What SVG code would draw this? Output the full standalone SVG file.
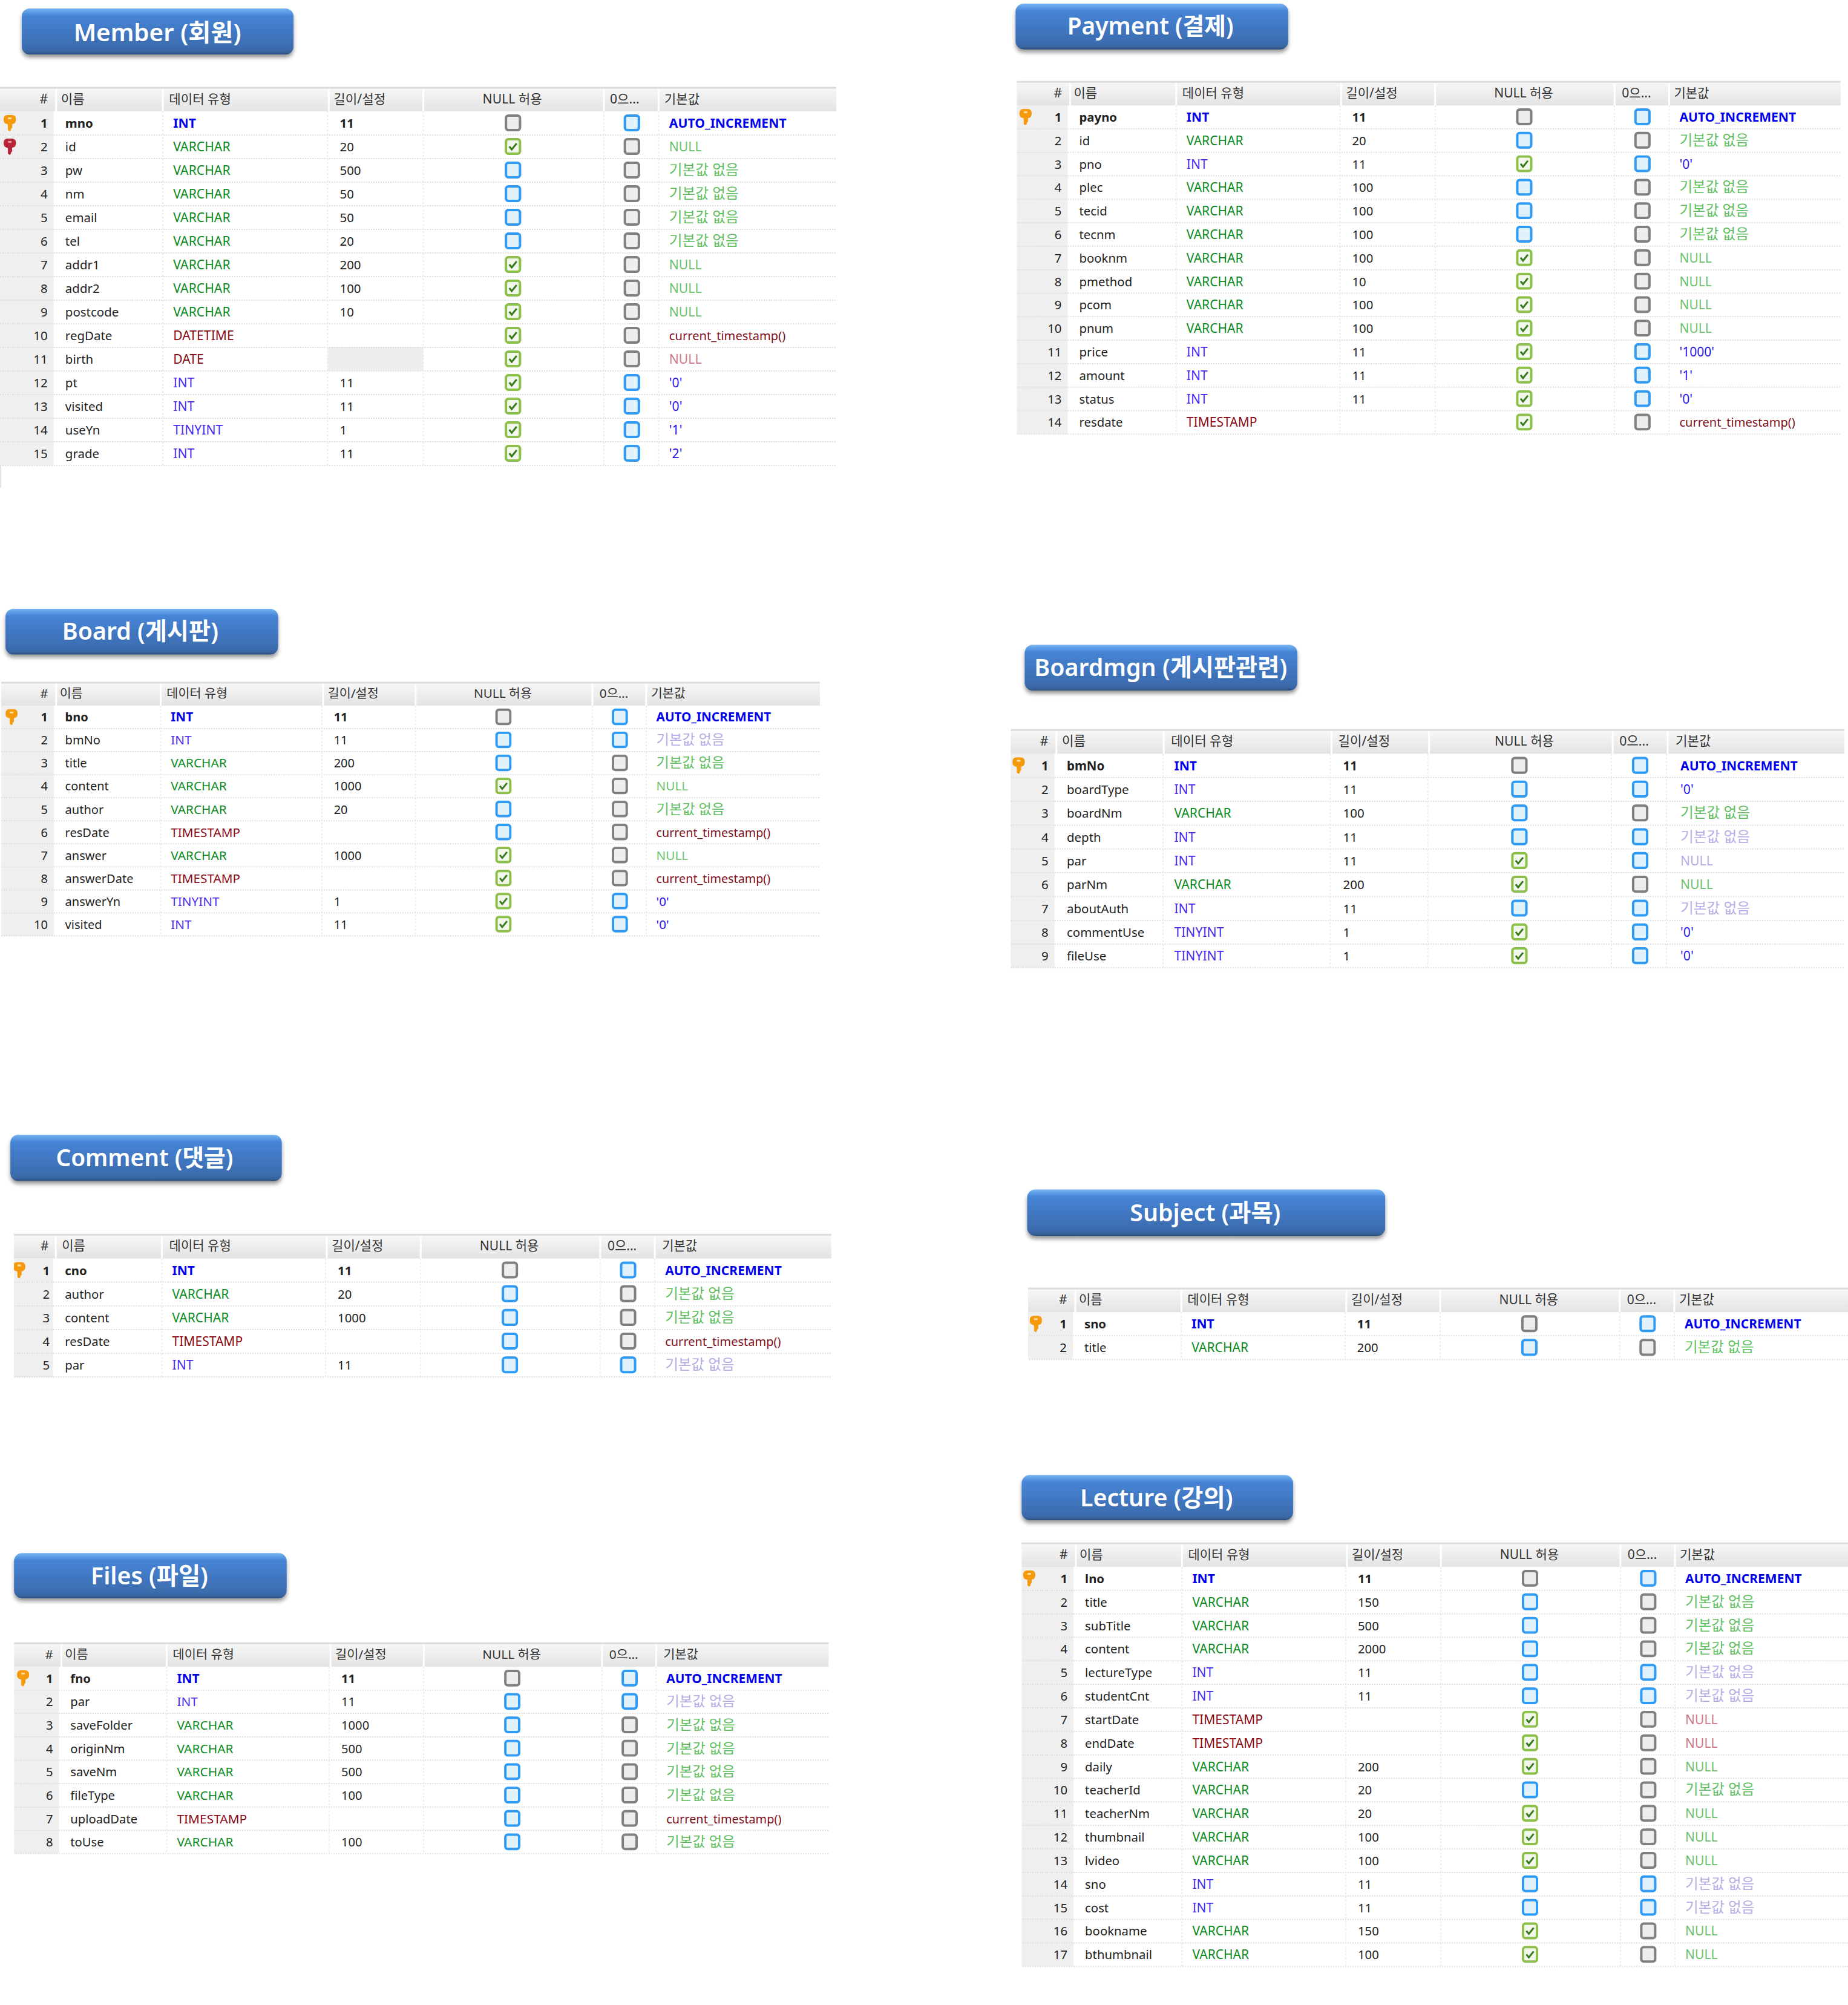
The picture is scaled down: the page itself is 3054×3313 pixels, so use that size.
<svg xmlns="http://www.w3.org/2000/svg" width="3054" height="3313" viewBox="0 0 3054 3313">
<style>
text{font-family:"Noto Sans","Noto Sans CJK KR",sans-serif;font-size:20.3px;fill:#222}
.n{text-anchor:end}
.b text{font-weight:700}
.h{fill:#333;font-size:21px}.m{text-anchor:middle}
.i,.v,.t,.a{font-size:21px}
.i{fill:#4a2cf0}.v{fill:#0b8a1e}.t{fill:#8b0a14}
.a{fill:#0000ee}.dg{fill:#5fbf5f;font-size:23.5px}.dn{fill:#6cc26c;font-size:21px}.dl{fill:#b4aee6;font-size:23.5px}.dr{fill:#cf7a86;font-size:21px}.dq{fill:#2a14ee;font-size:21px}.dc{fill:#80101c;font-size:20px}
.bt{font-size:39px;font-weight:600;fill:#fff;text-anchor:middle}
.btn{fill:url(#bg);filter:url(#sh)}
.num{fill:#efefef}
.hd{fill:url(#hg)}
.hl{fill:none;stroke:#dcdcdc;stroke-width:3}
.sep{fill:none;stroke:#fff;stroke-width:3}
.g{fill:none;stroke:#dedede;stroke-width:2;stroke-dasharray:2 2}
.gv{fill:none;stroke:#ececec;stroke-width:2;stroke-dasharray:3 3}
</style>
<defs>
<linearGradient id="bg" x1="0" y1="0" x2="0" y2="1"><stop offset="0" stop-color="#79b4f2"/><stop offset=".07" stop-color="#5f9fe8"/><stop offset=".16" stop-color="#4684d6"/><stop offset=".86" stop-color="#3c6cae"/><stop offset=".95" stop-color="#38649f"/><stop offset="1" stop-color="#2a4a78"/></linearGradient>
<linearGradient id="hg" x1="0" y1="0" x2="0" y2="1"><stop offset="0" stop-color="#f8f8f8"/><stop offset="1" stop-color="#e3e3e3"/></linearGradient>
<filter id="sh" x="-5%" y="-10%" width="110%" height="130%"><feDropShadow dx="0" dy="5" stdDeviation="3" flood-color="#000" flood-opacity=".4"/></filter>
<clipPath id="c-pay"><rect x="4" y="-5" width="1359" height="700"/></clipPath>
<clipPath id="c-com"><rect x="23" y="-5" width="1349" height="300"/></clipPath>
<clipPath id="c-fil"><rect x="13.4" y="-5" width="1353" height="420"/></clipPath>
<clipPath id="c-sub"><rect x="14.2" y="-5" width="1357" height="200"/></clipPath>
<clipPath id="c-lec"><rect x="2.5" y="-5" width="1369" height="760"/></clipPath>
<g id="cg"><rect x="-11.5" y="-12" width="23" height="24" rx="4" fill="#eee" stroke="#808080" stroke-width="4"/></g>
<g id="cb"><rect x="-11.5" y="-12" width="23" height="24" rx="4" fill="#e2f2fd" stroke="#2f9bf5" stroke-width="4"/></g>
<g id="cc"><rect x="-11.5" y="-12" width="23" height="24" rx="4" fill="#f3f8ec" stroke="#8cc04a" stroke-width="4"/><path d="M-6 0L-2 5L6 -5" fill="none" stroke="#3a7a20" stroke-width="3"/></g>
<g id="ko"><path d="M-4 -1H4V8L2 10V12L0 14L-3 12V5Z" fill="#f59a0c"/><rect x="-10" y="-13" width="20" height="15" rx="6" fill="#f59a0c"/><rect x="-3" y="-9" width="6" height="3" rx="1" fill="#ffe0a0"/></g>
<g id="kr"><path d="M-4 -1H4V8L2 10V12L0 14L-3 12V5Z" fill="#b82438"/><rect x="-10" y="-13" width="20" height="15" rx="6" fill="#b82438"/><rect x="-3" y="-9" width="6" height="3" rx="1" fill="#f0a0a8"/></g>
</defs>
<g id="page" transform="scale(1.008)">

<g id="member">
<rect class="btn" x="35.7" y="13.9" width="445.5" height="75.4" rx="13"/>
<text class="bt" x="258" y="67.5" style="font-size:40px">Member (회원)</text>
<g id="member-table" transform="translate(0,142.9) scale(1,.992)">
<path d="M1 0V662" fill="none" stroke="#e2e2e2" stroke-width="2"/>
<rect class="num" y="40" width="88" height="585"/>
<rect x="537" y="430" width="157" height="39" fill="#eee"/>
<rect class="hd" width="1371" height="40"/><path class="hl" d="M0 1H1371"/><path class="sep" d="M92 3V40M267 3V40M539 3V40M694 3V40M990 3V40M1080 3V40"/>
<path class="g" d="M0 79H1371M0 118H1371M0 157H1371M0 196H1371M0 235H1371M0 274H1371M0 313H1371M0 352H1371M0 391H1371M0 430H1371M0 469H1371M0 508H1371M0 547H1371M0 586H1371M0 625H1371"/>
<path class="gv" d="M267 40V625M537 40V625M694 40V625M990 40V625M1080 40V625"/>
<text class="h" x="65" y="27">#</text><text class="h" x="100" y="27">이름</text><text class="h" x="277" y="27">데이터 유형</text><text class="h" x="547" y="27">길이/설정</text><text class="h m" x="840" y="27">NULL 허용</text><text class="h" x="1000" y="27">0으...</text><text class="h" x="1089" y="27">기본값</text>
<use href="#ko" x="16" y="59"/><use href="#kr" x="16" y="98"/>
<g class="b"><text class="n" x="78" y="67">1</text><text x="107" y="67">mno</text><text class="a" x="284" y="67">INT</text><text x="557" y="67">11</text><use href="#cg" x="841" y="59"/><use href="#cb" x="1036" y="59"/><text class="a" x="1097" y="67">AUTO_INCREMENT</text></g>
<g transform="translate(0,39)"><text class="n" x="78" y="67">2</text><text x="107" y="67">id</text><text class="v" x="284" y="67">VARCHAR</text><text x="557" y="67">20</text><use href="#cc" x="841" y="59"/><use href="#cg" x="1036" y="59"/><text class="dn" x="1097" y="67">NULL</text></g>
<g transform="translate(0,78)"><text class="n" x="78" y="67">3</text><text x="107" y="67">pw</text><text class="v" x="284" y="67">VARCHAR</text><text x="557" y="67">500</text><use href="#cb" x="841" y="59"/><use href="#cg" x="1036" y="59"/><text class="dg" x="1097" y="67">기본값 없음</text></g>
<g transform="translate(0,117)"><text class="n" x="78" y="67">4</text><text x="107" y="67">nm</text><text class="v" x="284" y="67">VARCHAR</text><text x="557" y="67">50</text><use href="#cb" x="841" y="59"/><use href="#cg" x="1036" y="59"/><text class="dg" x="1097" y="67">기본값 없음</text></g>
<g transform="translate(0,156)"><text class="n" x="78" y="67">5</text><text x="107" y="67">email</text><text class="v" x="284" y="67">VARCHAR</text><text x="557" y="67">50</text><use href="#cb" x="841" y="59"/><use href="#cg" x="1036" y="59"/><text class="dg" x="1097" y="67">기본값 없음</text></g>
<g transform="translate(0,195)"><text class="n" x="78" y="67">6</text><text x="107" y="67">tel</text><text class="v" x="284" y="67">VARCHAR</text><text x="557" y="67">20</text><use href="#cb" x="841" y="59"/><use href="#cg" x="1036" y="59"/><text class="dg" x="1097" y="67">기본값 없음</text></g>
<g transform="translate(0,234)"><text class="n" x="78" y="67">7</text><text x="107" y="67">addr1</text><text class="v" x="284" y="67">VARCHAR</text><text x="557" y="67">200</text><use href="#cc" x="841" y="59"/><use href="#cg" x="1036" y="59"/><text class="dn" x="1097" y="67">NULL</text></g>
<g transform="translate(0,273)"><text class="n" x="78" y="67">8</text><text x="107" y="67">addr2</text><text class="v" x="284" y="67">VARCHAR</text><text x="557" y="67">100</text><use href="#cc" x="841" y="59"/><use href="#cg" x="1036" y="59"/><text class="dn" x="1097" y="67">NULL</text></g>
<g transform="translate(0,312)"><text class="n" x="78" y="67">9</text><text x="107" y="67">postcode</text><text class="v" x="284" y="67">VARCHAR</text><text x="557" y="67">10</text><use href="#cc" x="841" y="59"/><use href="#cg" x="1036" y="59"/><text class="dn" x="1097" y="67">NULL</text></g>
<g transform="translate(0,351)"><text class="n" x="78" y="67">10</text><text x="107" y="67">regDate</text><text class="t" x="284" y="67">DATETIME</text><use href="#cc" x="841" y="59"/><use href="#cg" x="1036" y="59"/><text class="dc" x="1097" y="67">current_timestamp()</text></g>
<g transform="translate(0,390)"><text class="n" x="78" y="67">11</text><text x="107" y="67">birth</text><text class="t" x="284" y="67">DATE</text><use href="#cc" x="841" y="59"/><use href="#cg" x="1036" y="59"/><text class="dr" x="1097" y="67">NULL</text></g>
<g transform="translate(0,429)"><text class="n" x="78" y="67">12</text><text x="107" y="67">pt</text><text class="i" x="284" y="67">INT</text><text x="557" y="67">11</text><use href="#cc" x="841" y="59"/><use href="#cb" x="1036" y="59"/><text class="dq" x="1097" y="67">'0'</text></g>
<g transform="translate(0,468)"><text class="n" x="78" y="67">13</text><text x="107" y="67">visited</text><text class="i" x="284" y="67">INT</text><text x="557" y="67">11</text><use href="#cc" x="841" y="59"/><use href="#cb" x="1036" y="59"/><text class="dq" x="1097" y="67">'0'</text></g>
<g transform="translate(0,507)"><text class="n" x="78" y="67">14</text><text x="107" y="67">useYn</text><text class="i" x="284" y="67">TINYINT</text><text x="557" y="67">1</text><use href="#cc" x="841" y="59"/><use href="#cb" x="1036" y="59"/><text class="dq" x="1097" y="67">'1'</text></g>
<g transform="translate(0,546)"><text class="n" x="78" y="67">15</text><text x="107" y="67">grade</text><text class="i" x="284" y="67">INT</text><text x="557" y="67">11</text><use href="#cc" x="841" y="59"/><use href="#cb" x="1036" y="59"/><text class="dq" x="1097" y="67">'2'</text></g>
</g>
</g>

<g id="payment">
<rect class="btn" x="1665" y="6" width="447" height="75" rx="13"/>
<text class="bt" x="1886" y="57" style="font-size:38.5px">Payment (결제)</text>
<g id="payment-table" clip-path="url(#c-pay)" transform="translate(1663,133.2) scale(.994,.987)">
<rect class="num" y="40" width="88" height="546"/>
<rect class="hd" width="1371" height="40"/><path class="hl" d="M0 1H1371"/><path class="sep" d="M92 3V40M267 3V40M539 3V40M694 3V40M990 3V40M1080 3V40"/>
<path class="g" d="M0 79H1371M0 118H1371M0 157H1371M0 196H1371M0 235H1371M0 274H1371M0 313H1371M0 352H1371M0 391H1371M0 430H1371M0 469H1371M0 508H1371M0 547H1371M0 586H1371"/>
<path class="gv" d="M267 40V586M537 40V586M694 40V586M990 40V586M1080 40V586"/>
<text class="h" x="65" y="27">#</text><text class="h" x="98" y="27">이름</text><text class="h" x="277" y="27">데이터 유형</text><text class="h" x="547" y="27">길이/설정</text><text class="h m" x="840" y="27">NULL 허용</text><text class="h" x="1002" y="27">0으...</text><text class="h" x="1088" y="27">기본값</text>
<use href="#ko" x="18.5" y="59"/>
<g class="b"><text class="n" x="78" y="67">1</text><text x="107" y="67">payno</text><text class="a" x="284" y="67">INT</text><text x="557" y="67">11</text><use href="#cg" x="841" y="59"/><use href="#cb" x="1036" y="59"/><text class="a" x="1097" y="67">AUTO_INCREMENT</text></g>
<g transform="translate(0,39)"><text class="n" x="78" y="67">2</text><text x="107" y="67">id</text><text class="v" x="284" y="67">VARCHAR</text><text x="557" y="67">20</text><use href="#cb" x="841" y="59"/><use href="#cg" x="1036" y="59"/><text class="dg" x="1097" y="67">기본값 없음</text></g>
<g transform="translate(0,78)"><text class="n" x="78" y="67">3</text><text x="107" y="67">pno</text><text class="i" x="284" y="67">INT</text><text x="557" y="67">11</text><use href="#cc" x="841" y="59"/><use href="#cb" x="1036" y="59"/><text class="dq" x="1097" y="67">'0'</text></g>
<g transform="translate(0,117)"><text class="n" x="78" y="67">4</text><text x="107" y="67">plec</text><text class="v" x="284" y="67">VARCHAR</text><text x="557" y="67">100</text><use href="#cb" x="841" y="59"/><use href="#cg" x="1036" y="59"/><text class="dg" x="1097" y="67">기본값 없음</text></g>
<g transform="translate(0,156)"><text class="n" x="78" y="67">5</text><text x="107" y="67">tecid</text><text class="v" x="284" y="67">VARCHAR</text><text x="557" y="67">100</text><use href="#cb" x="841" y="59"/><use href="#cg" x="1036" y="59"/><text class="dg" x="1097" y="67">기본값 없음</text></g>
<g transform="translate(0,195)"><text class="n" x="78" y="67">6</text><text x="107" y="67">tecnm</text><text class="v" x="284" y="67">VARCHAR</text><text x="557" y="67">100</text><use href="#cb" x="841" y="59"/><use href="#cg" x="1036" y="59"/><text class="dg" x="1097" y="67">기본값 없음</text></g>
<g transform="translate(0,234)"><text class="n" x="78" y="67">7</text><text x="107" y="67">booknm</text><text class="v" x="284" y="67">VARCHAR</text><text x="557" y="67">100</text><use href="#cc" x="841" y="59"/><use href="#cg" x="1036" y="59"/><text class="dn" x="1097" y="67">NULL</text></g>
<g transform="translate(0,273)"><text class="n" x="78" y="67">8</text><text x="107" y="67">pmethod</text><text class="v" x="284" y="67">VARCHAR</text><text x="557" y="67">10</text><use href="#cc" x="841" y="59"/><use href="#cg" x="1036" y="59"/><text class="dn" x="1097" y="67">NULL</text></g>
<g transform="translate(0,312)"><text class="n" x="78" y="67">9</text><text x="107" y="67">pcom</text><text class="v" x="284" y="67">VARCHAR</text><text x="557" y="67">100</text><use href="#cc" x="841" y="59"/><use href="#cg" x="1036" y="59"/><text class="dn" x="1097" y="67">NULL</text></g>
<g transform="translate(0,351)"><text class="n" x="78" y="67">10</text><text x="107" y="67">pnum</text><text class="v" x="284" y="67">VARCHAR</text><text x="557" y="67">100</text><use href="#cc" x="841" y="59"/><use href="#cg" x="1036" y="59"/><text class="dn" x="1097" y="67">NULL</text></g>
<g transform="translate(0,390)"><text class="n" x="78" y="67">11</text><text x="107" y="67">price</text><text class="i" x="284" y="67">INT</text><text x="557" y="67">11</text><use href="#cc" x="841" y="59"/><use href="#cb" x="1036" y="59"/><text class="dq" x="1097" y="67">'1000'</text></g>
<g transform="translate(0,429)"><text class="n" x="78" y="67">12</text><text x="107" y="67">amount</text><text class="i" x="284" y="67">INT</text><text x="557" y="67">11</text><use href="#cc" x="841" y="59"/><use href="#cb" x="1036" y="59"/><text class="dq" x="1097" y="67">'1'</text></g>
<g transform="translate(0,468)"><text class="n" x="78" y="67">13</text><text x="107" y="67">status</text><text class="i" x="284" y="67">INT</text><text x="557" y="67">11</text><use href="#cc" x="841" y="59"/><use href="#cb" x="1036" y="59"/><text class="dq" x="1097" y="67">'0'</text></g>
<g transform="translate(0,507)"><text class="n" x="78" y="67">14</text><text x="107" y="67">resdate</text><text class="t" x="284" y="67">TIMESTAMP</text><use href="#cc" x="841" y="59"/><use href="#cg" x="1036" y="59"/><text class="dc" x="1097" y="67">current_timestamp()</text></g>
</g>
</g>

<g id="board">
<rect class="btn" x="9" y="998" width="447" height="75" rx="13"/>
<text class="bt" x="230" y="1049">Board (게시판)</text>
<g id="board-table" transform="translate(2,1118) scale(.979,.968)">
<rect class="num" y="40" width="88" height="390"/>
<rect class="hd" width="1371" height="40"/><path class="hl" d="M0 1H1371"/><path class="sep" d="M92 3V40M267 3V40M539 3V40M694 3V40M990 3V40M1080 3V40"/>
<path class="g" d="M0 79H1371M0 118H1371M0 157H1371M0 196H1371M0 235H1371M0 274H1371M0 313H1371M0 352H1371M0 391H1371M0 430H1371"/>
<path class="gv" d="M267 40V430M537 40V430M694 40V430M990 40V430M1080 40V430"/>
<text class="h" x="65" y="27">#</text><text class="h" x="98" y="27">이름</text><text class="h" x="277" y="27">데이터 유형</text><text class="h" x="547" y="27">길이/설정</text><text class="h m" x="840" y="27">NULL 허용</text><text class="h" x="1002" y="27">0으...</text><text class="h" x="1088" y="27">기본값</text>
<use href="#ko" x="17.3" y="59"/>
<g class="b"><text class="n" x="78" y="67">1</text><text x="107" y="67">bno</text><text class="a" x="284" y="67">INT</text><text x="557" y="67">11</text><use href="#cg" x="841" y="59"/><use href="#cb" x="1036" y="59"/><text class="a" x="1097" y="67">AUTO_INCREMENT</text></g>
<g transform="translate(0,39)"><text class="n" x="78" y="67">2</text><text x="107" y="67">bmNo</text><text class="i" x="284" y="67">INT</text><text x="557" y="67">11</text><use href="#cb" x="841" y="59"/><use href="#cb" x="1036" y="59"/><text class="dl" x="1097" y="67">기본값 없음</text></g>
<g transform="translate(0,78)"><text class="n" x="78" y="67">3</text><text x="107" y="67">title</text><text class="v" x="284" y="67">VARCHAR</text><text x="557" y="67">200</text><use href="#cb" x="841" y="59"/><use href="#cg" x="1036" y="59"/><text class="dg" x="1097" y="67">기본값 없음</text></g>
<g transform="translate(0,117)"><text class="n" x="78" y="67">4</text><text x="107" y="67">content</text><text class="v" x="284" y="67">VARCHAR</text><text x="557" y="67">1000</text><use href="#cc" x="841" y="59"/><use href="#cg" x="1036" y="59"/><text class="dn" x="1097" y="67">NULL</text></g>
<g transform="translate(0,156)"><text class="n" x="78" y="67">5</text><text x="107" y="67">author</text><text class="v" x="284" y="67">VARCHAR</text><text x="557" y="67">20</text><use href="#cb" x="841" y="59"/><use href="#cg" x="1036" y="59"/><text class="dg" x="1097" y="67">기본값 없음</text></g>
<g transform="translate(0,195)"><text class="n" x="78" y="67">6</text><text x="107" y="67">resDate</text><text class="t" x="284" y="67">TIMESTAMP</text><use href="#cb" x="841" y="59"/><use href="#cg" x="1036" y="59"/><text class="dc" x="1097" y="67">current_timestamp()</text></g>
<g transform="translate(0,234)"><text class="n" x="78" y="67">7</text><text x="107" y="67">answer</text><text class="v" x="284" y="67">VARCHAR</text><text x="557" y="67">1000</text><use href="#cc" x="841" y="59"/><use href="#cg" x="1036" y="59"/><text class="dn" x="1097" y="67">NULL</text></g>
<g transform="translate(0,273)"><text class="n" x="78" y="67">8</text><text x="107" y="67">answerDate</text><text class="t" x="284" y="67">TIMESTAMP</text><use href="#cc" x="841" y="59"/><use href="#cg" x="1036" y="59"/><text class="dc" x="1097" y="67">current_timestamp()</text></g>
<g transform="translate(0,312)"><text class="n" x="78" y="67">9</text><text x="107" y="67">answerYn</text><text class="i" x="284" y="67">TINYINT</text><text x="557" y="67">1</text><use href="#cc" x="841" y="59"/><use href="#cb" x="1036" y="59"/><text class="dq" x="1097" y="67">'0'</text></g>
<g transform="translate(0,351)"><text class="n" x="78" y="67">10</text><text x="107" y="67">visited</text><text class="i" x="284" y="67">INT</text><text x="557" y="67">11</text><use href="#cc" x="841" y="59"/><use href="#cb" x="1036" y="59"/><text class="dq" x="1097" y="67">'0'</text></g>
</g>
</g>

<g id="boardmgn">
<rect class="btn" x="1680" y="1057" width="447" height="75" rx="13"/>
<text class="bt" x="1903" y="1108">Boardmgn (게시판관련)</text>
<g id="boardmgn-table" transform="translate(1657,1195.6)">
<rect class="num" y="40" width="72" height="351"/>
<rect class="hd" width="1367" height="40"/><path class="hl" d="M0 1H1367"/><path class="sep" d="M75 3V40M251 3V40M526 3V40M686 3V40M987 3V40M1077 3V40"/>
<path class="g" d="M0 79H1367M0 118H1367M0 157H1367M0 196H1367M0 235H1367M0 274H1367M0 313H1367M0 352H1367M0 391H1367"/>
<path class="gv" d="M250 40V391M524 40V391M684 40V391M985 40V391M1075 40V391"/>
<text class="h" x="48" y="27">#</text><text class="h" x="84" y="27">이름</text><text class="h" x="263" y="27">데이터 유형</text><text class="h" x="537" y="27">길이/설정</text><text class="h m" x="842" y="27">NULL 허용</text><text class="h" x="998" y="27">0으...</text><text class="h" x="1090" y="27">기본값</text>
<use href="#ko" x="13" y="59"/>
<g class="b"><text class="n" x="62" y="67">1</text><text x="92" y="67">bmNo</text><text class="a" x="268" y="67">INT</text><text x="545" y="67">11</text><use href="#cg" x="834" y="59"/><use href="#cb" x="1032" y="59"/><text class="a" x="1098" y="67">AUTO_INCREMENT</text></g>
<g transform="translate(0,39)"><text class="n" x="62" y="67">2</text><text x="92" y="67">boardType</text><text class="i" x="268" y="67">INT</text><text x="545" y="67">11</text><use href="#cb" x="834" y="59"/><use href="#cb" x="1032" y="59"/><text class="dq" x="1098" y="67">'0'</text></g>
<g transform="translate(0,78)"><text class="n" x="62" y="67">3</text><text x="92" y="67">boardNm</text><text class="v" x="268" y="67">VARCHAR</text><text x="545" y="67">100</text><use href="#cb" x="834" y="59"/><use href="#cg" x="1032" y="59"/><text class="dg" x="1098" y="67">기본값 없음</text></g>
<g transform="translate(0,117)"><text class="n" x="62" y="67">4</text><text x="92" y="67">depth</text><text class="i" x="268" y="67">INT</text><text x="545" y="67">11</text><use href="#cb" x="834" y="59"/><use href="#cb" x="1032" y="59"/><text class="dl" x="1098" y="67">기본값 없음</text></g>
<g transform="translate(0,156)"><text class="n" x="62" y="67">5</text><text x="92" y="67">par</text><text class="i" x="268" y="67">INT</text><text x="545" y="67">11</text><use href="#cc" x="834" y="59"/><use href="#cb" x="1032" y="59"/><text class="dl" x="1098" y="67" style="font-size:21px">NULL</text></g>
<g transform="translate(0,195)"><text class="n" x="62" y="67">6</text><text x="92" y="67">parNm</text><text class="v" x="268" y="67">VARCHAR</text><text x="545" y="67">200</text><use href="#cc" x="834" y="59"/><use href="#cg" x="1032" y="59"/><text class="dn" x="1098" y="67">NULL</text></g>
<g transform="translate(0,234)"><text class="n" x="62" y="67">7</text><text x="92" y="67">aboutAuth</text><text class="i" x="268" y="67">INT</text><text x="545" y="67">11</text><use href="#cb" x="834" y="59"/><use href="#cb" x="1032" y="59"/><text class="dl" x="1098" y="67">기본값 없음</text></g>
<g transform="translate(0,273)"><text class="n" x="62" y="67">8</text><text x="92" y="67">commentUse</text><text class="i" x="268" y="67">TINYINT</text><text x="545" y="67">1</text><use href="#cc" x="834" y="59"/><use href="#cb" x="1032" y="59"/><text class="dq" x="1098" y="67">'0'</text></g>
<g transform="translate(0,312)"><text class="n" x="62" y="67">9</text><text x="92" y="67">fileUse</text><text class="i" x="268" y="67">TINYINT</text><text x="545" y="67">1</text><use href="#cc" x="834" y="59"/><use href="#cb" x="1032" y="59"/><text class="dq" x="1098" y="67">'0'</text></g>
</g>
</g>

<g id="comment">
<rect class="btn" x="17" y="1860" width="445" height="76" rx="13"/>
<text class="bt" x="237" y="1912" style="font-size:38.5px">Comment (댓글)</text>
<g id="comment-table" clip-path="url(#c-com)" transform="translate(0,2023) scale(.994,.997)">
<rect class="num" y="40" width="88" height="195"/>
<rect class="hd" width="1371" height="40"/><path class="hl" d="M0 1H1371"/><path class="sep" d="M92 3V40M267 3V40M539 3V40M694 3V40M990 3V40M1080 3V40"/>
<path class="g" d="M0 79H1371M0 118H1371M0 157H1371M0 196H1371M0 235H1371"/>
<path class="gv" d="M267 40V235M537 40V235M694 40V235M990 40V235M1080 40V235"/>
<text class="h" x="67" y="27">#</text><text class="h" x="102" y="27">이름</text><text class="h" x="279" y="27">데이터 유형</text><text class="h" x="547" y="27">길이/설정</text><text class="h m" x="840" y="27">NULL 허용</text><text class="h" x="1002" y="27">0으...</text><text class="h" x="1092" y="27">기본값</text>
<use href="#ko" x="31.7" y="59"/>
<g class="b"><text class="n" x="82" y="67">1</text><text x="107" y="67">cno</text><text class="a" x="284" y="67">INT</text><text x="557" y="67">11</text><use href="#cg" x="841" y="59"/><use href="#cb" x="1036" y="59"/><text class="a" x="1097" y="67">AUTO_INCREMENT</text></g>
<g transform="translate(0,39)"><text class="n" x="82" y="67">2</text><text x="107" y="67">author</text><text class="v" x="284" y="67">VARCHAR</text><text x="557" y="67">20</text><use href="#cb" x="841" y="59"/><use href="#cg" x="1036" y="59"/><text class="dg" x="1097" y="67">기본값 없음</text></g>
<g transform="translate(0,78)"><text class="n" x="82" y="67">3</text><text x="107" y="67">content</text><text class="v" x="284" y="67">VARCHAR</text><text x="557" y="67">1000</text><use href="#cb" x="841" y="59"/><use href="#cg" x="1036" y="59"/><text class="dg" x="1097" y="67">기본값 없음</text></g>
<g transform="translate(0,117)"><text class="n" x="82" y="67">4</text><text x="107" y="67">resDate</text><text class="t" x="284" y="67">TIMESTAMP</text><use href="#cb" x="841" y="59"/><use href="#cg" x="1036" y="59"/><text class="dc" x="1097" y="67">current_timestamp()</text></g>
<g transform="translate(0,156)"><text class="n" x="82" y="67">5</text><text x="107" y="67">par</text><text class="i" x="284" y="67">INT</text><text x="557" y="67">11</text><use href="#cb" x="841" y="59"/><use href="#cb" x="1036" y="59"/><text class="dl" x="1097" y="67">기본값 없음</text></g>
</g>
</g>

<g id="subject">
<rect class="btn" x="1684" y="1950" width="587" height="76" rx="13"/>
<text class="bt" x="1976" y="2002">Subject (과목)</text>
<g id="subject-table" clip-path="url(#c-sub)" transform="translate(1671.4,2111.2) scale(.994,.995)">
<rect class="num" y="40" width="88" height="78"/>
<rect class="hd" width="1371" height="40"/><path class="hl" d="M0 1H1371"/><path class="sep" d="M92 3V40M267 3V40M539 3V40M694 3V40M990 3V40M1080 3V40"/>
<path class="g" d="M0 79H1371M0 118H1371"/>
<path class="gv" d="M267 40V118M537 40V118M694 40V118M990 40V118M1080 40V118"/>
<text class="h" x="65" y="27">#</text><text class="h" x="98" y="27">이름</text><text class="h" x="277" y="27">데이터 유형</text><text class="h" x="547" y="27">길이/설정</text><text class="h m" x="840" y="27">NULL 허용</text><text class="h" x="1002" y="27">0으...</text><text class="h" x="1088" y="27">기본값</text>
<use href="#ko" x="27" y="59"/>
<g class="b"><text class="n" x="78" y="67">1</text><text x="107" y="67">sno</text><text class="a" x="284" y="67">INT</text><text x="557" y="67">11</text><use href="#cg" x="841" y="59"/><use href="#cb" x="1036" y="59"/><text class="a" x="1097" y="67">AUTO_INCREMENT</text></g>
<g transform="translate(0,39)"><text class="n" x="78" y="67">2</text><text x="107" y="67">title</text><text class="v" x="284" y="67">VARCHAR</text><text x="557" y="67">200</text><use href="#cb" x="841" y="59"/><use href="#cg" x="1036" y="59"/><text class="dg" x="1097" y="67">기본값 없음</text></g>
</g>
</g>

<g id="files">
<rect class="btn" x="23" y="2546" width="447" height="74" rx="13"/>
<text class="bt" x="245" y="2597">Files (파일)</text>
<g id="files-table" clip-path="url(#c-fil)" transform="translate(9.8,2692.8) scale(.987,.983)">
<rect class="num" y="40" width="88" height="312"/>
<rect class="hd" width="1371" height="40"/><path class="hl" d="M0 1H1371"/><path class="sep" d="M92 3V40M267 3V40M539 3V40M694 3V40M990 3V40M1080 3V40"/>
<path class="g" d="M0 79H1371M0 118H1371M0 157H1371M0 196H1371M0 235H1371M0 274H1371M0 313H1371M0 352H1371"/>
<path class="gv" d="M267 40V352M537 40V352M694 40V352M990 40V352M1080 40V352"/>
<text class="h" x="65" y="27">#</text><text class="h" x="98" y="27">이름</text><text class="h" x="277" y="27">데이터 유형</text><text class="h" x="547" y="27">길이/설정</text><text class="h m" x="840" y="27">NULL 허용</text><text class="h" x="1002" y="27">0으...</text><text class="h" x="1092" y="27">기본값</text>
<use href="#ko" x="28.4" y="59"/>
<g class="b"><text class="n" x="78" y="67">1</text><text x="107" y="67">fno</text><text class="a" x="284" y="67">INT</text><text x="557" y="67">11</text><use href="#cg" x="841" y="59"/><use href="#cb" x="1036" y="59"/><text class="a" x="1097" y="67">AUTO_INCREMENT</text></g>
<g transform="translate(0,39)"><text class="n" x="78" y="67">2</text><text x="107" y="67">par</text><text class="i" x="284" y="67">INT</text><text x="557" y="67">11</text><use href="#cb" x="841" y="59"/><use href="#cb" x="1036" y="59"/><text class="dl" x="1097" y="67">기본값 없음</text></g>
<g transform="translate(0,78)"><text class="n" x="78" y="67">3</text><text x="107" y="67">saveFolder</text><text class="v" x="284" y="67">VARCHAR</text><text x="557" y="67">1000</text><use href="#cb" x="841" y="59"/><use href="#cg" x="1036" y="59"/><text class="dg" x="1097" y="67">기본값 없음</text></g>
<g transform="translate(0,117)"><text class="n" x="78" y="67">4</text><text x="107" y="67">originNm</text><text class="v" x="284" y="67">VARCHAR</text><text x="557" y="67">500</text><use href="#cb" x="841" y="59"/><use href="#cg" x="1036" y="59"/><text class="dg" x="1097" y="67">기본값 없음</text></g>
<g transform="translate(0,156)"><text class="n" x="78" y="67">5</text><text x="107" y="67">saveNm</text><text class="v" x="284" y="67">VARCHAR</text><text x="557" y="67">500</text><use href="#cb" x="841" y="59"/><use href="#cg" x="1036" y="59"/><text class="dg" x="1097" y="67">기본값 없음</text></g>
<g transform="translate(0,195)"><text class="n" x="78" y="67">6</text><text x="107" y="67">fileType</text><text class="v" x="284" y="67">VARCHAR</text><text x="557" y="67">100</text><use href="#cb" x="841" y="59"/><use href="#cg" x="1036" y="59"/><text class="dg" x="1097" y="67">기본값 없음</text></g>
<g transform="translate(0,234)"><text class="n" x="78" y="67">7</text><text x="107" y="67">uploadDate</text><text class="t" x="284" y="67">TIMESTAMP</text><use href="#cb" x="841" y="59"/><use href="#cg" x="1036" y="59"/><text class="dc" x="1097" y="67">current_timestamp()</text></g>
<g transform="translate(0,273)"><text class="n" x="78" y="67">8</text><text x="107" y="67">toUse</text><text class="v" x="284" y="67">VARCHAR</text><text x="557" y="67">100</text><use href="#cb" x="841" y="59"/><use href="#cg" x="1036" y="59"/><text class="dg" x="1097" y="67">기본값 없음</text></g>
</g>
</g>

<g id="lecture">
<rect class="btn" x="1675" y="2418" width="445" height="74" rx="13"/>
<text class="bt" x="1896" y="2469">Lecture (강의)</text>
<g id="lecture-table" clip-path="url(#c-lec)" transform="translate(1672.5,2528.9) scale(.994,.988)">
<rect class="num" y="40" width="88" height="663"/>
<rect class="hd" width="1371" height="40"/><path class="hl" d="M0 1H1371"/><path class="sep" d="M92 3V40M267 3V40M539 3V40M694 3V40M990 3V40M1080 3V40"/>
<path class="g" d="M0 79H1371M0 118H1371M0 157H1371M0 196H1371M0 235H1371M0 274H1371M0 313H1371M0 352H1371M0 391H1371M0 430H1371M0 469H1371M0 508H1371M0 547H1371M0 586H1371M0 625H1371M0 664H1371M0 703H1371"/>
<path class="gv" d="M267 40V703M537 40V703M694 40V703M990 40V703M1080 40V703"/>
<text class="h" x="65" y="27">#</text><text class="h" x="98" y="27">이름</text><text class="h" x="277" y="27">데이터 유형</text><text class="h" x="547" y="27">길이/설정</text><text class="h m" x="840" y="27">NULL 허용</text><text class="h" x="1002" y="27">0으...</text><text class="h" x="1088" y="27">기본값</text>
<use href="#ko" x="15" y="59"/>
<g class="b"><text class="n" x="78" y="67">1</text><text x="107" y="67">lno</text><text class="a" x="284" y="67">INT</text><text x="557" y="67">11</text><use href="#cg" x="841" y="59"/><use href="#cb" x="1036" y="59"/><text class="a" x="1097" y="67">AUTO_INCREMENT</text></g>
<g transform="translate(0,39)"><text class="n" x="78" y="67">2</text><text x="107" y="67">title</text><text class="v" x="284" y="67">VARCHAR</text><text x="557" y="67">150</text><use href="#cb" x="841" y="59"/><use href="#cg" x="1036" y="59"/><text class="dg" x="1097" y="67">기본값 없음</text></g>
<g transform="translate(0,78)"><text class="n" x="78" y="67">3</text><text x="107" y="67">subTitle</text><text class="v" x="284" y="67">VARCHAR</text><text x="557" y="67">500</text><use href="#cb" x="841" y="59"/><use href="#cg" x="1036" y="59"/><text class="dg" x="1097" y="67">기본값 없음</text></g>
<g transform="translate(0,117)"><text class="n" x="78" y="67">4</text><text x="107" y="67">content</text><text class="v" x="284" y="67">VARCHAR</text><text x="557" y="67">2000</text><use href="#cb" x="841" y="59"/><use href="#cg" x="1036" y="59"/><text class="dg" x="1097" y="67">기본값 없음</text></g>
<g transform="translate(0,156)"><text class="n" x="78" y="67">5</text><text x="107" y="67">lectureType</text><text class="i" x="284" y="67">INT</text><text x="557" y="67">11</text><use href="#cb" x="841" y="59"/><use href="#cb" x="1036" y="59"/><text class="dl" x="1097" y="67">기본값 없음</text></g>
<g transform="translate(0,195)"><text class="n" x="78" y="67">6</text><text x="107" y="67">studentCnt</text><text class="i" x="284" y="67">INT</text><text x="557" y="67">11</text><use href="#cb" x="841" y="59"/><use href="#cb" x="1036" y="59"/><text class="dl" x="1097" y="67">기본값 없음</text></g>
<g transform="translate(0,234)"><text class="n" x="78" y="67">7</text><text x="107" y="67">startDate</text><text class="t" x="284" y="67">TIMESTAMP</text><use href="#cc" x="841" y="59"/><use href="#cg" x="1036" y="59"/><text class="dr" x="1097" y="67">NULL</text></g>
<g transform="translate(0,273)"><text class="n" x="78" y="67">8</text><text x="107" y="67">endDate</text><text class="t" x="284" y="67">TIMESTAMP</text><use href="#cc" x="841" y="59"/><use href="#cg" x="1036" y="59"/><text class="dr" x="1097" y="67">NULL</text></g>
<g transform="translate(0,312)"><text class="n" x="78" y="67">9</text><text x="107" y="67">daily</text><text class="v" x="284" y="67">VARCHAR</text><text x="557" y="67">200</text><use href="#cc" x="841" y="59"/><use href="#cg" x="1036" y="59"/><text class="dn" x="1097" y="67">NULL</text></g>
<g transform="translate(0,351)"><text class="n" x="78" y="67">10</text><text x="107" y="67">teacherId</text><text class="v" x="284" y="67">VARCHAR</text><text x="557" y="67">20</text><use href="#cb" x="841" y="59"/><use href="#cg" x="1036" y="59"/><text class="dg" x="1097" y="67">기본값 없음</text></g>
<g transform="translate(0,390)"><text class="n" x="78" y="67">11</text><text x="107" y="67">teacherNm</text><text class="v" x="284" y="67">VARCHAR</text><text x="557" y="67">20</text><use href="#cc" x="841" y="59"/><use href="#cg" x="1036" y="59"/><text class="dn" x="1097" y="67">NULL</text></g>
<g transform="translate(0,429)"><text class="n" x="78" y="67">12</text><text x="107" y="67">thumbnail</text><text class="v" x="284" y="67">VARCHAR</text><text x="557" y="67">100</text><use href="#cc" x="841" y="59"/><use href="#cg" x="1036" y="59"/><text class="dn" x="1097" y="67">NULL</text></g>
<g transform="translate(0,468)"><text class="n" x="78" y="67">13</text><text x="107" y="67">lvideo</text><text class="v" x="284" y="67">VARCHAR</text><text x="557" y="67">100</text><use href="#cc" x="841" y="59"/><use href="#cg" x="1036" y="59"/><text class="dn" x="1097" y="67">NULL</text></g>
<g transform="translate(0,507)"><text class="n" x="78" y="67">14</text><text x="107" y="67">sno</text><text class="i" x="284" y="67">INT</text><text x="557" y="67">11</text><use href="#cb" x="841" y="59"/><use href="#cb" x="1036" y="59"/><text class="dl" x="1097" y="67">기본값 없음</text></g>
<g transform="translate(0,546)"><text class="n" x="78" y="67">15</text><text x="107" y="67">cost</text><text class="i" x="284" y="67">INT</text><text x="557" y="67">11</text><use href="#cb" x="841" y="59"/><use href="#cb" x="1036" y="59"/><text class="dl" x="1097" y="67">기본값 없음</text></g>
<g transform="translate(0,585)"><text class="n" x="78" y="67">16</text><text x="107" y="67">bookname</text><text class="v" x="284" y="67">VARCHAR</text><text x="557" y="67">150</text><use href="#cc" x="841" y="59"/><use href="#cg" x="1036" y="59"/><text class="dn" x="1097" y="67">NULL</text></g>
<g transform="translate(0,624)"><text class="n" x="78" y="67">17</text><text x="107" y="67">bthumbnail</text><text class="v" x="284" y="67">VARCHAR</text><text x="557" y="67">100</text><use href="#cc" x="841" y="59"/><use href="#cg" x="1036" y="59"/><text class="dn" x="1097" y="67">NULL</text></g>
</g>
</g>
</g>
</svg>
